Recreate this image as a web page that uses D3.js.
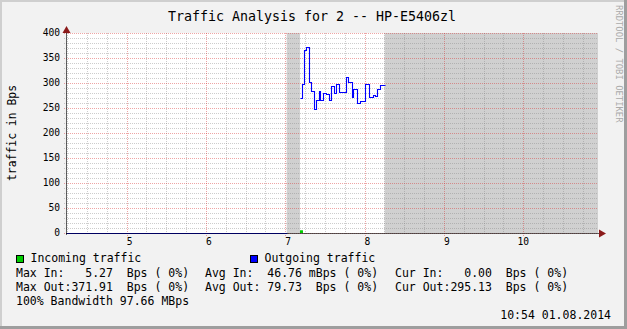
<!DOCTYPE html>
<html>
<head>
<meta charset="utf-8">
<title>Traffic Analysis for 2 -- HP-E5406zl</title>
<script src="https://cdn.jsdelivr.net/npm/d3@7"></script>
<style>
  body { margin: 0; background: #f2f2f2; }
  svg { display: block; }
  text { font-family: "DejaVu Sans Mono", monospace; white-space: pre; }
</style>
</head>
<body>
<script>
// time axis in hours of the day, values in Bps
const timeDomain = [4.235, 10.943];
const hourTicks = [5, 6, 7, 8, 9, 10];
const valueTicks = [0, 50, 100, 150, 200, 250, 300, 350, 400];

// periods without data (grey)
const unknownFrom = [7.018, 8.253];
const unknownTo = [7.185, 10.943];

// outgoing traffic (step line), null = gap
const outTimes = [4.235, 7.018, 7.018,
  7.185, 7.214, 7.240, 7.265, 7.295, 7.328, 7.366, 7.384, 7.421, 7.441,
  7.479, 7.513, 7.547, 7.580, 7.618, 7.643, 7.681, 7.769, 7.794, 7.845,
  7.857, 7.908, 7.942, 8.001, 8.059, 8.102, 8.127, 8.160, 8.198, 8.253];
const outValues = [0, 0, null,
  270, 298, 367, 372, 303, 283, 248, 267, 285, 267,
  281, 278, 266, 294, 280, 298, 282, 313, 303, 273,
  288, 261, 265, 297, 272, 277, 275, 289, 295, 295];

// incoming traffic (area)
const inTimes = [7.185, 7.223, 8.253];
const inValues = [5.27, 0, 0];

const legendNames = ["Incoming traffic", "Outgoing traffic"];
const legendColors = ["#00cc00", "#0000ff"];
const statRows = [
  ["Max In:   5.27  Bps ( 0%)", "Avg In:  46.76 mBps ( 0%)", "Cur In:   0.00  Bps ( 0%)"],
  ["Max Out:371.91  Bps ( 0%)", "Avg Out: 79.73  Bps ( 0%)", "Cur Out:295.13  Bps ( 0%)"]
];
const bandwidthNote = "100% Bandwidth 97.66 MBps";
const stamp = "10:54 01.08.2014";

const W = 627, H = 329;
const pL = 66, pR = 598, pT = 33, pB = 233;

const svg = d3.select("body").append("svg")
  .attr("width", W).attr("height", H);

// frame
svg.append("rect").attr("width", W).attr("height", H).attr("fill", "#f2f2f2");
svg.append("path").attr("d", `M0,0H${W}V2H2V${H}H0Z`).attr("fill", "#cfcfcf");
svg.append("path").attr("d", `M${W},0V${H}H0V${H - 3}H${W - 3}V0Z`).attr("fill", "#9e9e9e");

const x = d3.scaleLinear().domain(timeDomain).range([pL, pR]);
const y = d3.scaleLinear().domain([0, 400]).range([pB, pT]);
const px = v => Math.round(v) + 0.5;

// canvas
svg.append("rect").attr("x", pL).attr("y", pT)
  .attr("width", pR - pL).attr("height", pB - pT).attr("fill", "#ffffff");

// unknown data bands
svg.selectAll("rect.unk").data(unknownFrom).enter().append("rect")
  .attr("class", "unk")
  .attr("x", d => x(d))
  .attr("y", pT)
  .attr("width", (d, i) => x(unknownTo[i]) - x(d))
  .attr("height", pB - pT)
  .attr("fill", "#d0d0d0");

// grid
const minorH = d3.range(0, 401, 10).filter(v => v % 50 !== 0);
const minorV = d3.range(4.25, timeDomain[1], 0.25).filter(v => v % 1 !== 0);
const grid = svg.append("g").attr("stroke-dasharray", "1,1").attr("stroke-width", 1);

grid.selectAll("line.mh").data(minorH).enter().append("line")
  .attr("x1", pL - 2).attr("x2", pR)
  .attr("y1", d => px(y(d))).attr("y2", d => px(y(d)))
  .attr("stroke", "rgba(130,130,130,0.4)");
grid.selectAll("line.mv").data(minorV).enter().append("line")
  .attr("y1", pT).attr("y2", pB + 2)
  .attr("x1", d => px(x(d))).attr("x2", d => px(x(d)))
  .attr("stroke", "rgba(130,130,130,0.4)");
grid.selectAll("line.MH").data(valueTicks).enter().append("line")
  .attr("x1", pL - 2).attr("x2", pR)
  .attr("y1", d => px(y(d))).attr("y2", d => px(y(d)))
  .attr("stroke", "rgba(215,40,40,0.42)");
grid.selectAll("line.MV").data(hourTicks).enter().append("line")
  .attr("y1", pT).attr("y2", pB + 3)
  .attr("x1", d => px(x(d))).attr("x2", d => px(x(d)))
  .attr("stroke", "rgba(215,40,40,0.42)");

// incoming area
const inData = inTimes.map((t, i) => ({ t: t, v: inValues[i] }));
svg.append("path")
  .datum(inData)
  .attr("fill", legendColors[0])
  .attr("d", d3.area().curve(d3.curveStepAfter)
    .x(d => x(d.t)).y0(y(0)).y1(d => y(d.v)));

// outgoing line
const outData = outTimes.map((t, i) => ({ t: t, v: outValues[i] }));
svg.append("path")
  .datum(outData)
  .attr("fill", "none")
  .attr("stroke", legendColors[1])
  .attr("stroke-width", 1.1)
  .attr("d", d3.line().curve(d3.curveStepAfter)
    .defined(d => d.v !== null)
    .x(d => px(x(d.t))).y(d => px(y(d.v))));

// axes
svg.append("line").attr("x1", pL).attr("x2", pR + 2)
  .attr("y1", px(pB)).attr("y2", px(pB))
  .attr("stroke", "#000").attr("stroke-opacity", 0.62);
svg.append("line").attr("x1", px(pL)).attr("x2", px(pL))
  .attr("y1", pB + 2).attr("y2", pT - 3)
  .attr("stroke", "#000").attr("stroke-opacity", 0.62);
svg.append("path").attr("d", `M${pL - 3.5},${pT}L${pL + 0.5},${pT - 7}L${pL + 4.5},${pT}Z`)
  .attr("fill", "#8b1a1a");
svg.append("path").attr("d", `M${pR + 1},${pB - 3.5}L${pR + 8},${pB + 0.5}L${pR + 1},${pB + 4.5}Z`)
  .attr("fill", "#8b1a1a");

// tick labels
svg.selectAll("text.yl").data(valueTicks).enter().append("text")
  .attr("x", 60).attr("y", d => y(d)).attr("dy", "0.36em")
  .attr("text-anchor", "end").attr("font-size", 9.6)
  .text(d => d);
svg.selectAll("text.xl").data(hourTicks).enter().append("text")
  .attr("x", d => x(d)).attr("y", 245)
  .attr("text-anchor", "middle").attr("font-size", 9.6)
  .text(d => String(d).padStart(2, " "));

// titles
svg.append("text").attr("x", 312).attr("y", 21)
  .attr("text-anchor", "middle").attr("font-size", 13.3)
  .text("Traffic Analysis for 2 -- HP-E5406zl");
svg.append("text").attr("transform", "translate(16,133) rotate(-90)")
  .attr("text-anchor", "middle").attr("font-size", 11.4)
  .text("traffic in Bps");
svg.append("text").attr("transform", "translate(616,5) rotate(90)")
  .attr("font-size", 8.9).attr("fill", "#aaaaaa")
  .text("RRDTOOL / TOBI OETIKER");

// legend
const legX = [16.5, 250.5];
legendNames.forEach((name, i) => {
  svg.append("rect").attr("x", legX[i]).attr("y", 255.5)
    .attr("width", 7).attr("height", 7)
    .attr("fill", legendColors[i]).attr("stroke", "#000");
  svg.append("text").attr("x", legX[i] + 14).attr("y", 262)
    .attr("font-size", 11.5).text(name);
});
const colX = [16, 205, 395];
statRows.forEach((row, r) => {
  row.forEach((s, c) => {
    svg.append("text").attr("x", colX[c]).attr("y", 276.5 + r * 14)
      .attr("font-size", 11.5).text(s);
  });
});
svg.append("text").attr("x", 16).attr("y", 305)
  .attr("font-size", 11.5).text(bandwidthNote);
svg.append("text").attr("x", 611).attr("y", 319)
  .attr("text-anchor", "end").attr("font-size", 11.5).text(stamp);
</script>
</body>
</html>
